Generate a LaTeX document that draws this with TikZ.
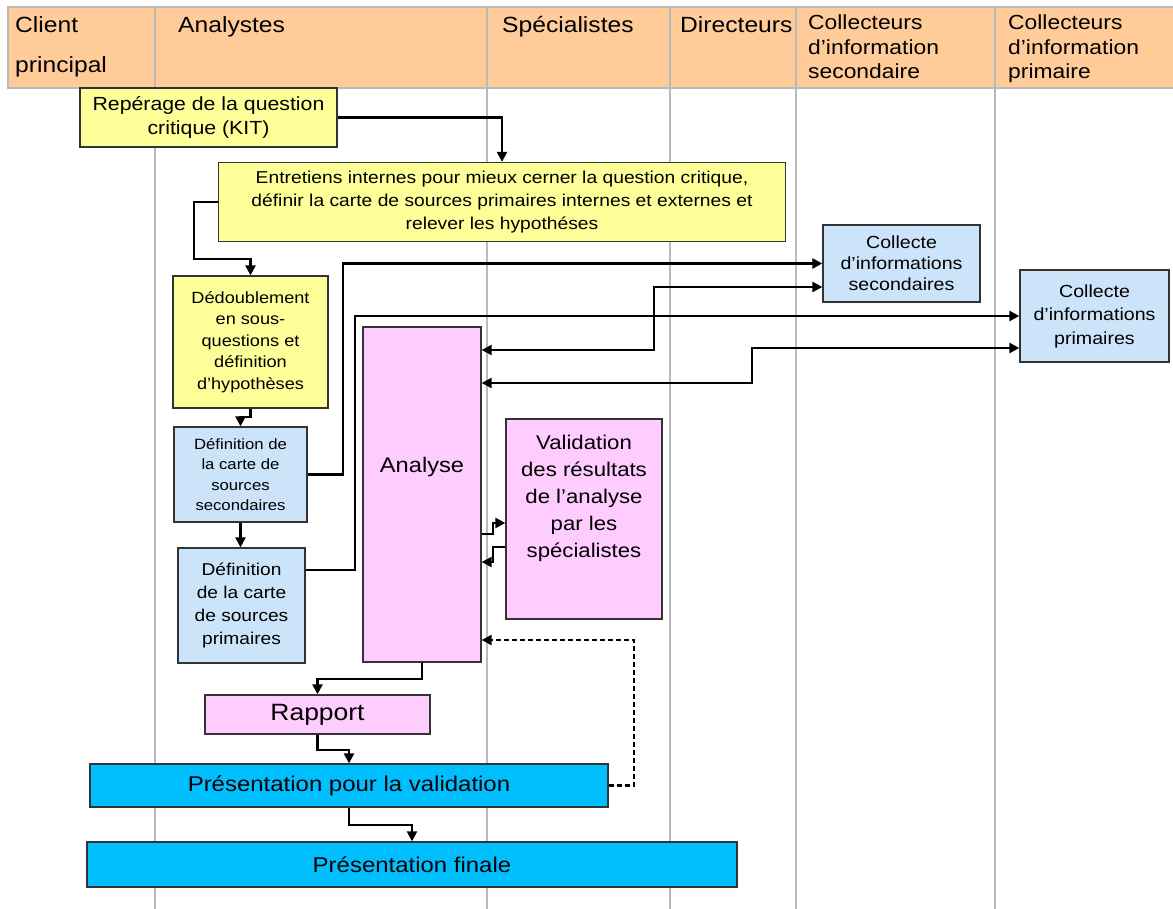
\documentclass[tikz,border=0pt]{standalone}
\usepackage{fontspec}
\setmainfont{Liberation Sans}[FakeStretch=1.12]
\usetikzlibrary{arrows.meta}

\definecolor{headfill}{HTML}{FFCC99}
\definecolor{boxyellow}{HTML}{FFFF99}
\definecolor{boxblue}{HTML}{CCE4FA}
\definecolor{boxpink}{HTML}{FFCCFF}
\definecolor{boxcyan}{HTML}{00BFFF}
\newcommand{\fsz}[2]{\fontsize{#1}{#2}\selectfont}

\tikzset{
	lane/.style={draw=black!27, line width=1.3pt},
	hdrtext/.style={inner sep=0pt, align=left, anchor=north west},
	box/.style={draw=black!80, line width=1.3pt, inner sep=0pt, align=center},
	yellowbox/.style={box, fill=boxyellow},
	bluebox/.style={box, fill=boxblue},
	pinkbox/.style={box, fill=boxpink},
	cyanbox/.style={box, fill=boxcyan},
	flow/.style={draw, line width=2.3pt, -{Triangle[length=10pt,width=10pt]}},
	twoway/.style={flow, {Triangle[length=10pt,width=10pt]}-{Triangle[length=10pt,width=10pt]}},
	feedback/.style={flow, dash pattern=on 5pt off 3pt}
}

\begin{document}
\begin{tikzpicture}[x=1pt, y=-1pt]
	\useasboundingbox (0,0) rectangle (1173,909);
	% header row and swimlanes
	\fill[headfill] (8,7) rectangle (1173,88);
	\draw[lane] (1173,7) -- (8,7) -- (8,88) -- (1173,88);
	\foreach \lx in {155,487,670,796,995}
		\draw[lane] (\lx,7) -- (\lx,909);
	\node[hdrtext, font=\fsz{22}{40}] (hclient) at (15,16) {Client\\principal};
	\node[hdrtext, font=\fsz{22}{40}] (hanalyst) at (178,16) {Analystes};
	\node[hdrtext, font=\fsz{22}{40}] (hspecial) at (502,16) {Spécialistes};
	\node[hdrtext, font=\fsz{22}{40}] (hdirect) at (680,16) {Directeurs};
	\node[hdrtext, font=\fsz{20.4}{24.5}] (hcollsec) at (808,15) {Collecteurs\\d’information\\secondaire};
	\node[hdrtext, font=\fsz{20.4}{24.5}] (hcollprim) at (1008,15) {Collecteurs\\d’information\\primaire};

	% boxes
	\node[yellowbox, minimum width=257pt, minimum height=59pt, font=\fsz{19}{24}] (rep) at (208.5,117.5) {Repérage de la question\\critique (KIT)};
	\node[yellowbox, minimum width=567pt, minimum height=79pt, font=\fsz{17.2}{23}] (ent) at (502,202) {Entretiens internes pour mieux cerner la question critique,\\définir la carte de sources primaires internes et externes et\\relever les hypothéses};
	\node[yellowbox, minimum width=155pt, minimum height=132pt, font=\fsz{16.2}{21.5}] (ded) at (250.5,342) {Dédoublement\\en sous-\\questions et\\définition\\d’hypothèses};
	\node[bluebox, minimum width=133pt, minimum height=95pt, font=\fsz{14.9}{20.5}] (dsec) at (240.5,474.5) {Définition de\\la carte de\\sources\\secondaires};
	\node[bluebox, minimum width=127pt, minimum height=115pt, font=\fsz{17.1}{23.3}] (dprim) at (241.5,605.5) {Définition\\de la carte\\de sources\\primaires};
	\node[pinkbox, minimum width=118pt, minimum height=335pt] (ana) at (422,494.5) {};
	\node[font=\fsz{21.1}{25}, inner sep=0pt] (analbl) at (422,467) {Analyse};
	\node[pinkbox, minimum width=156pt, minimum height=200pt] (val) at (584,519) {};
	\node[font=\fsz{19.8}{27}, align=center, inner sep=0pt] (vallbl) at (584,498) {Validation\\des résultats\\de l’analyse\\par les\\spécialistes};
	\node[bluebox, minimum width=157pt, minimum height=77pt, font=\fsz{17.5}{21}] (csec) at (901.5,263.5) {Collecte\\d’informations\\secondaires};
	\node[bluebox, minimum width=149pt, minimum height=92pt, font=\fsz{17.5}{23.5}] (cprim) at (1094.5,316) {Collecte\\d’informations\\primaires};
	\node[pinkbox, minimum width=225pt, minimum height=39pt, font=\fsz{23.6}{28}] (rap) at (317.5,714.5) {Rapport};
	\node[cyanbox, minimum width=518pt, minimum height=43pt, font=\fsz{21.4}{26}] (pval) at (349,785.5) {Présentation pour la validation};
	\node[cyanbox, minimum width=650pt, minimum height=45pt, font=\fsz{21.4}{26}] (fin) at (412,864.5) {Présentation finale};

	% connectors
	\draw[flow] (rep.east) -| (ent.north);
	\draw[flow] (ent.west) -| (194,259) -| (ded.north);
	\draw[flow] (ded.south) -- ++(0,8) -| (dsec.north);
	\draw[flow] (dsec.south) -- (dsec.south |- dprim.north);
	\draw[flow] (dsec.east) -| (343,263.5) -- (csec.west);
	\draw[flow] ([yshift=35.5pt]dprim.east) -| (355,316) -- (cprim.west);
	\draw[twoway] ([yshift=144.5pt]ana.east) -| (654,287) -- ([yshift=-23.5pt]csec.west);
	\draw[twoway] ([yshift=111.5pt]ana.east) -| (752,348) -- ([yshift=-32pt]cprim.west);
	\draw[flow] ([yshift=-39.5pt]ana.east) -| (493,523) -- ([yshift=-4pt]val.west);
	\draw[flow] ([yshift=-28pt]val.west) -| (493,562) -- ([yshift=-67.5pt]ana.east);
	\draw[flow] (ana.south) -- ++(0,16) -| (rap.north);
	\draw[flow] (rap.south) -- ++(0,15) -| (pval.north);
	\draw[flow] (pval.south) -- ++(0,17) -| (fin.north);
	\draw[feedback] (pval.east) -| (634,640) -- ([yshift=-145.5pt]ana.east);
\end{tikzpicture}
\end{document}
